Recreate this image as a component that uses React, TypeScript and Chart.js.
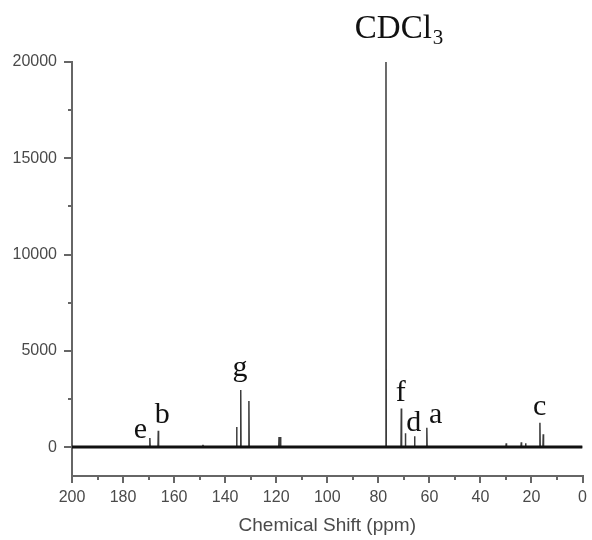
import { useEffect, useRef } from 'react';
import { Chart, registerables } from 'chart.js';

Chart.register(...registerables);

// Peak positions (ppm) and intensities
const peakShifts = [169.5, 166.2, 148.7, 135.5, 133.9, 130.7, 118.9, 118.3, 77.0, 71.0, 69.4, 65.8, 61.0, 29.9, 24.0, 22.3, 16.7, 15.4];
const peakHeights = [470, 850, 120, 1040, 2960, 2390, 530, 530, 20000, 2000, 720, 570, 1000, 200, 250, 200, 1260, 670];

const baselineShifts = [200, 0];
const baselineValues = [0, 0];

const xMajorTicks = [200, 180, 160, 140, 120, 100, 80, 60, 40, 20, 0];
const xMinorTicks = [190, 170, 150, 130, 110, 90, 70, 50, 30, 10];
const yMajorTicks = [0, 5000, 10000, 15000, 20000];
const yMinorTicks = [2500, 7500, 12500, 17500];

const peakLabels = ['e', 'b', 'g', 'f', 'd', 'a', 'c'];
const labelShifts = [173.2, 164.6, 134.2, 71.2, 66.1, 57.5, 16.8];
const labelValues = [467, 1246, 3686, 2404, 846, 1262, 1661];

const solventText = 'CDCl';
const solventSub = '3';
const solventShift = 89.2;
const solventValue = 21235;

const AXIS_COLOR = '#666666';
const TICK_COLOR = '#4a4a4a';
const TICK_FONT = { family: "'Liberation Sans', Arial, sans-serif", size: 16 };

function buildSpectrum() {
  const pts: { x: number; y: number }[] = [];
  const hw = 0.12;
  for (let i = 0; i < peakShifts.length; i++) {
    pts.push({ x: peakShifts[i] + hw, y: 0 });
    pts.push({ x: peakShifts[i], y: peakHeights[i] });
    pts.push({ x: peakShifts[i] - hw, y: 0 });
  }
  pts.sort((a, b) => b.x - a.x);
  return [{ x: 200, y: 0 }, ...pts, { x: 0, y: 0 }];
}

const decorPlugin = {
  id: 'decor',
  afterDraw(chart: any) {
    const { ctx, scales, chartArea } = chart;
    const xs = scales.x;
    const ys = scales.y;
    ctx.save();
    // minor ticks
    ctx.strokeStyle = AXIS_COLOR;
    ctx.lineWidth = 2;
    ctx.beginPath();
    for (const v of xMinorTicks) {
      const px = Math.round(xs.getPixelForValue(v));
      ctx.moveTo(px, chartArea.bottom);
      ctx.lineTo(px, chartArea.bottom + 4);
    }
    for (const v of yMinorTicks) {
      const py = Math.round(ys.getPixelForValue(v));
      ctx.moveTo(chartArea.left - 4, py);
      ctx.lineTo(chartArea.left, py);
    }
    ctx.stroke();

    // peak labels
    ctx.fillStyle = '#111111';
    ctx.textBaseline = 'alphabetic';
    ctx.textAlign = 'center';
    ctx.font = "30px 'Liberation Serif', 'Times New Roman', serif";
    for (let i = 0; i < peakLabels.length; i++) {
      ctx.fillText(peakLabels[i], xs.getPixelForValue(labelShifts[i]), ys.getPixelForValue(labelValues[i]));
    }
    // solvent label with subscript
    ctx.textAlign = 'left';
    ctx.font = "33px 'Liberation Serif', 'Times New Roman', serif";
    const sx = xs.getPixelForValue(solventShift);
    const sy = ys.getPixelForValue(solventValue);
    ctx.fillText(solventText, sx, sy);
    const w = ctx.measureText(solventText).width;
    ctx.font = "21px 'Liberation Serif', 'Times New Roman', serif";
    ctx.fillText(solventSub, sx + w + 1, sy + 6);
    ctx.restore();
  },
};

export default function App() {
  const ref = useRef<HTMLCanvasElement | null>(null);
  useEffect(() => {
    if (!ref.current) return;
    const chart = new Chart(ref.current, {
      type: 'line',
      data: {
        datasets: [
          {
            label: 'spectrum',
            data: buildSpectrum(),
            borderColor: '#3c3c3c',
            borderWidth: 1.5,
            pointRadius: 0,
            tension: 0,
            order: 2,
          },
          {
            label: 'baseline',
            data: baselineShifts.map((x, i) => ({ x, y: baselineValues[i] })),
            borderColor: '#111111',
            borderWidth: 3,
            pointRadius: 0,
            order: 1,
          },
        ],
      },
      options: {
        animation: false,
        responsive: false,
        parsing: true,
        layout: { padding: { top: 62, right: 9, left: 0, bottom: 0 } },
        plugins: { legend: { display: false }, tooltip: { enabled: false }, title: { display: false } },
        scales: {
          x: {
            type: 'linear',
            min: 0,
            max: 200,
            reverse: true,
            afterFit: (axis: any) => {
              axis.height = 64;
            },
            afterBuildTicks: (axis: any) => {
              axis.ticks = xMajorTicks.map((v) => ({ value: v }));
            },
            ticks: {
              color: TICK_COLOR,
              font: TICK_FONT,
              padding: 5,
              maxRotation: 0,
              autoSkip: false,
              callback: (v: any) => String(v),
            },
            grid: { drawOnChartArea: false, drawTicks: true, tickLength: 7, color: AXIS_COLOR, lineWidth: 2 },
            border: { display: true, color: AXIS_COLOR, width: 2 },
            title: {
              display: true,
              text: 'Chemical Shift (ppm)',
              color: TICK_COLOR,
              font: { family: "'Liberation Sans', Arial, sans-serif", size: 19, lineHeight: '20px' },
              padding: { top: 0, bottom: 4 },
            },
          },
          y: {
            type: 'linear',
            min: -1500,
            max: 20000,
            afterFit: (axis: any) => {
              axis.width = 72;
            },
            afterBuildTicks: (axis: any) => {
              axis.ticks = yMajorTicks.map((v) => ({ value: v }));
            },
            ticks: { color: TICK_COLOR, font: TICK_FONT, padding: 7, callback: (v: any) => String(v) },
            grid: { drawOnChartArea: false, drawTicks: true, tickLength: 8, color: AXIS_COLOR, lineWidth: 2 },
            border: { display: true, color: AXIS_COLOR, width: 2 },
          },
        },
      },
      plugins: [decorPlugin],
    });
    return () => chart.destroy();
  }, []);
  return (
    <div style={{ position: 'fixed', left: 0, top: 0, width: 592, height: 540, background: '#fff' }}>
      <canvas ref={ref} width={592} height={540} style={{ display: 'block' }} />
    </div>
  );
}
